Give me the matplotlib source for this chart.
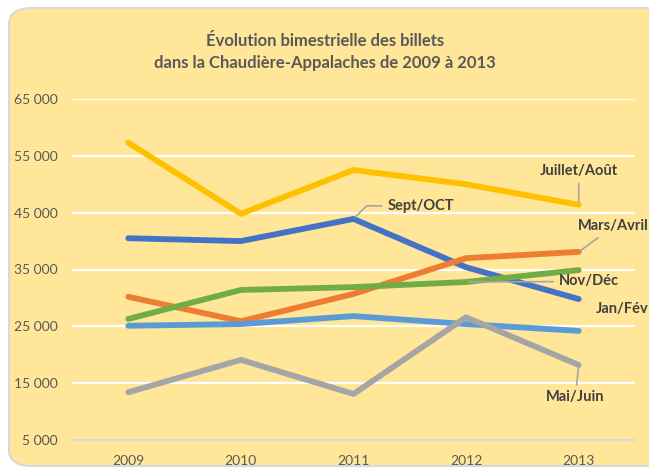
import matplotlib.pyplot as plt
from matplotlib.patches import FancyBboxPatch

plt.rcParams['font.family'] = ['Lato', 'DejaVu Sans']

# données
annees = ['2009', '2010', '2011', '2012', '2013']
juillet_aout = [57300, 44800, 52500, 50000, 46400]
sept_oct = [40500, 40000, 43900, 35400, 29800]
mars_avril = [30200, 25900, 30700, 37000, 38100]
nov_dec = [26300, 31400, 31900, 32800, 34900]
jan_fev = [25100, 25400, 26800, 25400, 24200]
mai_juin = [13400, 19100, 13100, 26600, 18200]
y_ticks = [5000, 15000, 25000, 35000, 45000, 55000, 65000]

series = [
    ('Juillet/Août', juillet_aout, '#FFC000'),
    ('Sept/OCT', sept_oct, '#4472C4'),
    ('Mars/Avril', mars_avril, '#ED7D31'),
    ('Nov/Déc', nov_dec, '#70AD47'),
    ('Jan/Fév', jan_fev, '#5B9BD5'),
    ('Mai/Juin', mai_juin, '#A5A5A5'),
]

W, H = 649, 470
fig = plt.figure(figsize=(W / 100, H / 100), dpi=100)
fig.patch.set_facecolor('white')

# cadre arrondi jaune
cadre = FancyBboxPatch((9 / W, 1 - 466 / H), 660 / W, 458 / H,
                       boxstyle='round,pad=0,rounding_size=0.035',
                       transform=fig.transFigure, facecolor='#FFE699',
                       edgecolor='#D9D9D9', linewidth=1.5, zorder=-5)
fig.patches.append(cadre)

ax = fig.add_axes([72 / W, 1 - 440 / H, (635 - 72) / W, (440 - 99) / H], zorder=2)
ax.set_facecolor('none')
x = range(len(annees))
for nom, vals, couleur in series:
    ax.plot(x, vals, color=couleur, lw=4.2, solid_capstyle='round', zorder=3)

ax.set_xlim(-0.5, 4.5)
ax.set_ylim(5000, 65000)
ax.set_yticks(y_ticks)
ax.set_yticklabels([f'{v:,}'.replace(',', ' ') for v in y_ticks])
ax.set_xticks(list(x))
ax.set_xticklabels(annees)
ax.tick_params(length=0, labelsize=10, labelcolor='#595959')
ax.tick_params(axis='y', pad=10)
ax.tick_params(axis='x', pad=11)
ax.grid(axis='y', color='white', lw=1.5, zorder=1)
for s in ['top', 'right', 'left']:
    ax.spines[s].set_visible(False)
ax.spines['bottom'].set_color('#D9D9D9')
ax.spines['bottom'].set_linewidth(1.5)

fig.text(325 / W, 1 - 52 / H, 'Évolution bimestrielle des billets\ndans la Chaudière-Appalaches de 2009 à 2013',
         ha='center', va='center', fontsize=12, fontweight='bold', color='#595959', linespacing=1.45)

# étiquettes des séries avec lignes de rappel
lab = dict(fontsize=10.5, fontweight='bold', color='#404040', zorder=5)
lead = dict(color='#A6A6A6', lw=1.2, zorder=4)
ax.annotate('Juillet/Août', xy=(4, juillet_aout[4]), xytext=(4, 52300), ha='center', va='center',
            arrowprops=dict(arrowstyle='-', **lead), **lab)
ax.annotate('Sept/OCT', xy=(2, sept_oct[2]), xytext=(2.3, 46200), ha='left', va='center',
            arrowprops=dict(arrowstyle='-', connectionstyle='angle,angleA=0,angleB=45,rad=0', **lead), **lab)
ax.annotate('Mars/Avril', xy=(4, mars_avril[4]), xytext=(4.31, 42600), ha='center', va='center',
            arrowprops=dict(arrowstyle='-', **lead), annotation_clip=False, **lab)
ax.annotate('Nov/Déc', xy=(3, nov_dec[3]), xytext=(4.09, 32900), ha='center', va='center',
            arrowprops=dict(arrowstyle='-', **lead), **lab)
ax.text(4.39, 28100, 'Jan/Fév', ha='center', va='center', clip_on=False, **lab)
ax.annotate('Mai/Juin', xy=(4, mai_juin[4]), xytext=(3.97, 12500), ha='center', va='center',
            arrowprops=dict(arrowstyle='-', **lead), annotation_clip=False, **lab)

fig.savefig('out.png', dpi=100)
